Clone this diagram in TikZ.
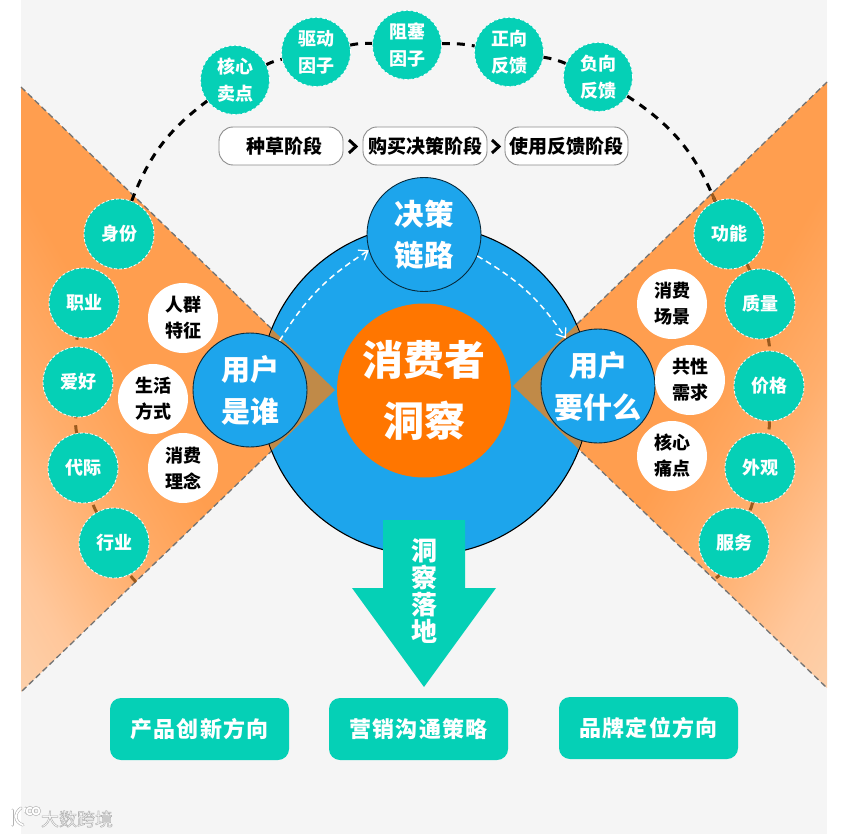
\documentclass[tikz,border=0pt]{standalone}
\usepackage{fontspec}
\setmainfont{Noto Sans CJK SC}
\usetikzlibrary{arrows.meta}
\definecolor{panelgrey}{HTML}{F5F5F5}
\definecolor{teal}{HTML}{05D0B6}
\definecolor{skyblue}{HTML}{1DA5EC}
\definecolor{hotorange}{HTML}{FF7600}
\definecolor{softorange}{HTML}{FF9E4F}
\definecolor{paleorange}{HTML}{FBE3CF}
\definecolor{fadeone}{HTML}{FBD6B4}
\definecolor{fadetwo}{HTML}{FFC79B}
\definecolor{fadethree}{HTML}{FFAE6C}
\definecolor{brownish}{HTML}{C08A48}
\definecolor{dashbrown}{HTML}{9A5A1E}
\pgfdeclareverticalshading{fanfade}{100bp}{
  color(0bp)=(paleorange); color(11bp)=(fadeone); color(23bp)=(fadetwo);
  color(35bp)=(fadethree); color(46bp)=(softorange); color(100bp)=(softorange)}
\tikzset{
  tealdot/.style={circle,fill=teal,draw=white,densely dashed,line width=.8pt,minimum size=70pt,inner sep=0pt,
    text=white,font=\bfseries\fontsize{18}{27}\selectfont,align=center},
  whitedot/.style={circle,fill=white,minimum size=70pt,inner sep=0pt,
    text=black,font=\bfseries\fontsize{18}{26}\selectfont,align=center},
  bluedot/.style={circle,fill=skyblue,draw=black!75!skyblue,line width=.9pt,minimum size=114pt,inner sep=0pt,
    text=white,font=\bfseries\fontsize{29}{42}\selectfont,align=center},
  stagebox/.style={rectangle,rounded corners=14pt,fill=white,draw=black!45,line width=.9pt,minimum height=38pt,inner sep=0pt,
    text=black,font=\bfseries\fontsize{19}{22}\selectfont},
  goalbox/.style={rectangle,rounded corners=11pt,fill=teal,minimum width=179pt,minimum height=62pt,inner sep=0pt,
    text=white,font=\bfseries\fontsize{22}{26}\selectfont\addfontfeature{LetterSpace=5}},
  link/.style={draw=black,line width=3pt,dash pattern=on 8pt off 7pt},
  linkin/.style={draw=dashbrown,line width=3pt,dash pattern=on 8pt off 7pt},
  linkfaint/.style={draw=dashbrown,line width=3pt,dash pattern=on 8pt off 7pt,dash phase=8pt},
  fanedge/.style={draw=black!55,line width=1.3pt,dash pattern=on 6pt off 3.5pt},
  flow/.style={draw=white,line width=1.5pt,dash pattern=on 6pt off 4pt,-{Straight Barb[length=8pt,width=12pt,line width=1.3pt]}},
  chev/.style={draw=black,line width=3pt,line join=miter},
  logoline/.style={draw=black!30,double=white,double distance=1.8pt,line width=.6pt,line cap=round},
}
\begin{document}
\begin{tikzpicture}[x=1pt,y=-1pt]
\useasboundingbox (0,0) rectangle (856,834);
\fill[panelgrey] (21,0) rectangle (827,834);

% fans
\shade[shading=fanfade,shading angle=-60] (21,87) -- (335,390) -- (21,692) -- cycle;
\shade[shading=fanfade,shading angle=60] (827,82) -- (513,386) -- (827,688) -- cycle;
\draw[fanedge] (21,87) -- (335,390) -- (21,692);
\draw[fanedge] (827,82) -- (513,386) -- (827,688);

% hub
\node[circle,fill=skyblue,draw=black,line width=1.1pt,minimum size=330pt,inner sep=0pt] (hub) at (425,390) {};
\begin{scope}
  \clip (425,390) circle[radius=164.5pt];
  \fill[brownish] (21,87) -- (335,390) -- (21,692) -- cycle;
  \fill[brownish] (827,82) -- (513,386) -- (827,688) -- cycle;
\end{scope}

\node[circle,fill=hotorange,minimum size=174pt,inner sep=0pt,text=white,align=center,
  font=\bfseries\fontsize{41}{61}\selectfont] (core) at (424,390.5) {消费者\\洞察};
\node[bluedot] (who) at (250,390) {用户\\是谁};
\node[bluedot] (want) at (598,386) {用户\\要什么};

% down arrow
\fill[teal] (383,520) -- (465,520) -- (465,588) -- (496,588) -- (424,687) -- (352,588) -- (383,588) -- cycle;
\node[text=white,align=center,inner sep=0pt,font=\bfseries\fontsize{26}{27.3}\selectfont] (land) at (424,591) {洞\\察\\落\\地};

\node[bluedot,font=\bfseries\fontsize{29.5}{41}\selectfont] (decide) at (424,234.5) {决策\\链路};

\draw[flow] (who.59) to[bend left=13] (decide.196);
\draw[flow] (decide.-22) to[bend left=13] (want.124);

% stages
\node[stagebox,minimum width=124pt] (seed) at (281,146) {\hspace*{6pt}种草阶段};
\node[stagebox,minimum width=124pt] (buy) at (425,146) {购买决策阶段};
\node[stagebox,minimum width=123pt] (use) at (566.5,146) {使用反馈阶段};
\draw[chev] (349,140) -- (356,146.5) -- (349,153);
\draw[chev] (492,140) -- (499,146.5) -- (492,153);

% top chain
\node[tealdot,minimum size=69pt] (n1) at (235,80) {核心\\卖点};
\node[tealdot,minimum size=69pt] (n2) at (316,52) {驱动\\因子};
\node[tealdot,minimum size=69pt] (n3) at (407,45) {阻塞\\因子};
\node[tealdot,minimum size=69pt] (n4) at (509,52) {正向\\反馈};
\node[tealdot,minimum size=69pt] (n5) at (598,77) {负向\\反馈};

% left
\node[tealdot] (l1) at (119,234) {身份};
\node[tealdot] (l2) at (84,303) {职业};
\node[tealdot] (l3) at (78,382) {爱好};
\node[tealdot] (l4) at (83,468) {代际};
\node[tealdot] (l5) at (114,543) {行业};
\node[whitedot] (w1) at (183,318) {人群\\特征};
\node[whitedot] (w2) at (153,399) {生活\\方式};
\node[whitedot] (w3) at (183,468) {消费\\理念};

% right
\node[tealdot] (r1) at (729,234) {功能};
\node[tealdot] (r2) at (760,304) {质量};
\node[tealdot] (r3) at (769,386) {价格};
\node[tealdot] (r4) at (760,468) {外观};
\node[tealdot] (r5) at (734,543) {服务};
\node[whitedot] (x1) at (672,304) {消费\\场景};
\node[whitedot] (x2) at (690,380) {共性\\需求};
\node[whitedot] (x3) at (672,456) {核心\\痛点};

% chain connectors
\coordinate (endl) at (136,582);
\coordinate (endr) at (716,578);
\draw[linkin] (endl) to[bend left=3] (l5);
\draw[linkin] (l5) to[bend left=7] (l4);
\draw[linkin] (l4) to[bend left=7] (l3);
\draw[linkfaint] (l3) to[bend left=7] (l2);
\draw[linkfaint] (l2) to[bend left=7] (l1);
\draw[link] (l1) to[bend left=16] (n1);
\draw[link] (n1) to[bend left=7] (n2);
\draw[link] (n2) to[bend left=7] (n3);
\draw[link] (n3) to[bend left=6] (n4);
\draw[link] (n4) to[bend left=7] (n5);
\draw[link] (n5) to[bend left=17] (r1);
\begin{scope}
  \clip (827,82) -- (513,386) -- (827,688) -- cycle;
  \draw[draw=dashbrown,line width=3pt] (n5) to[bend left=17] (r1);
\end{scope}
\draw[linkin] (r1) to[bend left=7] (r2);
\draw[linkin] (r2) to[bend left=7] (r3);
\draw[linkin] (r3) to[bend left=7] (r4);
\draw[linkin] (r4) to[bend left=7] (r5);
\draw[linkin] (r5) to[bend left=3] (endr);

% goals
\node[goalbox] (g1) at (199.5,729) {产品创新方向};
\node[goalbox] (g2) at (418.5,729) {营销沟通策略};
\node[goalbox] (g3) at (648.5,728) {品牌定位方向};

% watermark
\draw[logoline] (12,810) -- (12,825);
\draw[logoline] (21,808) .. controls (14,813) and (14,822) .. (23,825);
\draw[logoline] (25,808) -- (25,812);
\draw[logoline] (30,811) circle[radius=3.4pt];
\draw[logoline] (36,811) circle[radius=3.4pt];
\node[inner sep=0pt,font=\fontsize{18}{20}\selectfont] (mark) at (77,819)
  {\special{pdf:code q 2 Tr 0.5 w 0.7 G 1 g}大数跨境\special{pdf:code Q}};
\end{tikzpicture}
\end{document}
